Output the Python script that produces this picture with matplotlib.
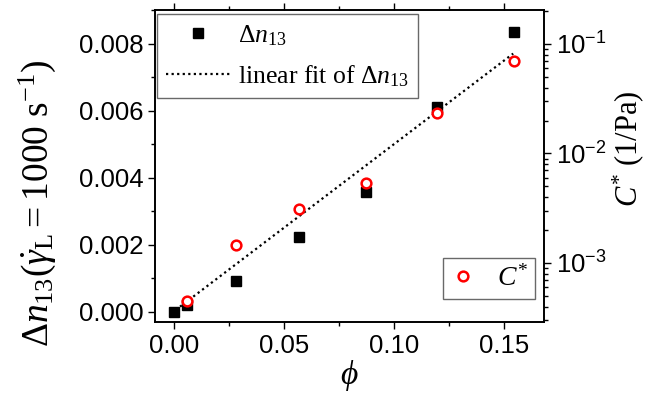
import numpy as np
import matplotlib
matplotlib.use("Agg")
import matplotlib.pyplot as plt
from matplotlib.ticker import MultipleLocator, LogLocator, FuncFormatter, NullFormatter
from matplotlib.lines import Line2D

plt.rcParams['mathtext.fontset'] = 'custom'
plt.rcParams['mathtext.rm'] = 'Liberation Serif'
plt.rcParams['mathtext.it'] = 'Liberation Serif:italic'
plt.rcParams['mathtext.sf'] = 'Liberation Sans'
plt.rcParams['font.family'] = ['Liberation Sans', 'DejaVu Sans']

# Data
phi = [0.0, 0.0056, 0.0279, 0.0567, 0.0873, 0.1196, 0.1543]
dn13 = [0.0, 0.0002, 0.00092, 0.00224, 0.00358, 0.00612, 0.00834]
phi_c = [0.0056, 0.0279, 0.0567, 0.0873, 0.1196, 0.1543]
c_star = [4.53e-4, 1.47e-3, 3.13e-3, 5.35e-3, 2.36e-2, 7.04e-2]
fit_slope = 0.0499
fit_intercept = 0.00002
fit_range = [0.0026, 0.154]

fig = plt.figure(figsize=(6.54, 3.95), dpi=100)
ax = fig.add_axes([155/654, 1-322/395, (544-155)/654, (322-10)/395])
ax2 = ax.twinx()

fx = np.array(fit_range)
ax.plot(fx, fit_slope*fx + fit_intercept, color='black', linestyle=(0, (1, 1.5)), lw=1.6, zorder=2)
ax.plot(phi, dn13, linestyle='none', marker='s', color='black', ms=6.5, zorder=3)
ax2.plot(phi_c, c_star, linestyle='none', marker='o', mfc='white', mec='red', mew=1.8, ms=7, zorder=4)

ax.set_xlim(-0.00877, 0.168)
ax.set_ylim(-0.000307, 0.009006)
ax2.set_yscale('log')
ax2.set_ylim(10**-3.539, 10**-0.6895)

ax.xaxis.set_major_locator(MultipleLocator(0.05))
ax.xaxis.set_minor_locator(MultipleLocator(0.025))
ax.yaxis.set_major_locator(MultipleLocator(0.002))
ax.yaxis.set_minor_locator(MultipleLocator(0.001))
ax.xaxis.set_major_formatter(FuncFormatter(lambda v, p: f"{v:.2f}"))
ax.yaxis.set_major_formatter(FuncFormatter(lambda v, p: f"{v:.3f}"))

ax2.yaxis.set_major_locator(LogLocator(base=10))
ax2.yaxis.set_minor_locator(LogLocator(base=10, subs=np.arange(2, 10)))
ax2.yaxis.set_major_formatter(FuncFormatter(lambda v, p: r'$\mathsf{10^{%d}}$' % int(round(np.log10(v)))))
ax2.yaxis.set_minor_formatter(NullFormatter())

ax.tick_params(axis='both', which='major', direction='out', length=5, width=1, labelsize=18.5, top=True)
ax.tick_params(axis='both', which='minor', direction='out', length=3, width=1, top=True)
ax2.tick_params(axis='y', which='major', direction='out', length=5, width=1, labelsize=18.5)
ax2.tick_params(axis='y', which='minor', direction='out', length=3, width=1)
for a in (ax, ax2):
    for s in a.spines.values():
        s.set_linewidth(1.2)

ax.set_xlabel(r'$\phi$', fontsize=24, labelpad=0)
ax.set_ylabel(r'$\Delta n_{13}(\dot{\gamma}_{\mathrm{L}} = 1000\ \mathrm{s}^{-1})$', fontsize=27)
ax.yaxis.set_label_coords(-0.25, 0.38)
ax2.set_ylabel(r'$C^{*}$ (1/Pa)', fontsize=22, family='Liberation Serif')
ax2.yaxis.set_label_coords(1.17, 0.554)

h1 = Line2D([], [], linestyle='none', marker='s', color='black', ms=6.5)
h2 = Line2D([], [], color='black', linestyle=(0, (1, 1.5)), lw=1.6)
leg1 = ax.legend([h1, h2], [r'$\Delta n_{13}$', r'linear fit of $\Delta n_{13}$'],
                 loc='upper left', bbox_to_anchor=(0.005, 0.987), frameon=True, fancybox=False,
                 edgecolor='#444444', prop={'family': 'Liberation Serif', 'size': 18.5},
                 handlelength=2.5, borderpad=0.35, labelspacing=0.6, handletextpad=0.3, borderaxespad=0)
leg1.get_frame().set_linewidth(1.0)
leg1.set_zorder(10)

h3 = Line2D([], [], linestyle='none', marker='o', mfc='white', mec='red', mew=1.8, ms=7)
leg2 = ax2.legend([h3], [r'$C^{*}$'], loc='lower right', bbox_to_anchor=(0.978, 0.075),
                  frameon=True, fancybox=False, edgecolor='#444444',
                  prop={'family': 'Liberation Serif', 'size': 20},
                  handlelength=0.9, borderpad=0.25, handletextpad=0.8, borderaxespad=0)
leg2.get_frame().set_linewidth(1.0)

fig.savefig('out.png', dpi=100)
